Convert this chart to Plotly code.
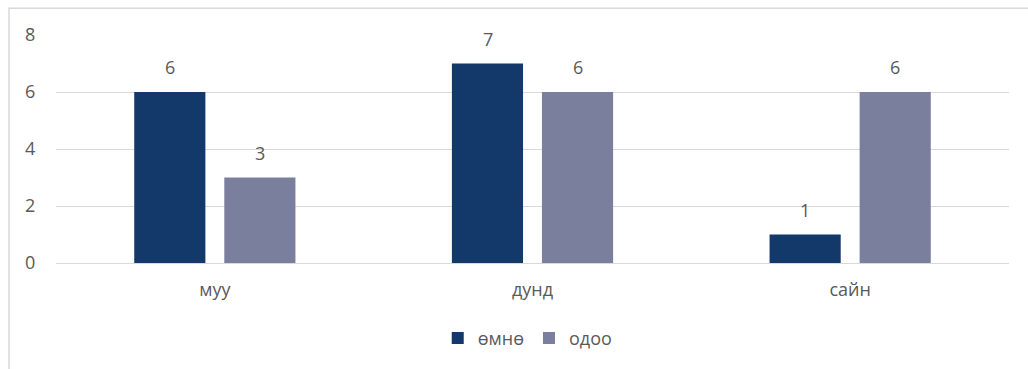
import plotly.graph_objects as go

categories = ["муу", "дунд", "сайн"]
series_names = ["өмнө", "одоо"]
before_values = [6, 7, 1]
now_values = [3, 6, 6]
tick_values = [0, 2, 4, 6, 8]

colors = ["#13386a", "#7b7f9e"]
text_color = "#595959"
grid_color = "#d9d9d9"
font_family = "Open Sans, Liberation Sans, sans-serif"

fig = go.Figure()
for name, vals, col in zip(series_names, [before_values, now_values], colors):
    fig.add_trace(go.Bar(
        x=categories, y=vals, name=name,
        marker=dict(color=col, line=dict(width=0)),
    ))

# value labels above each bar (bars are offset ±45px from category centre)
offsets = [-45, 45]
for vals, dx in zip([before_values, now_values], offsets):
    for c, v in zip(categories, vals):
        fig.add_annotation(
            x=c, y=v, text=str(v), showarrow=False,
            xshift=dx, yshift=11, yanchor="bottom",
            font=dict(family=font_family, size=18, color=text_color),
        )

# outer chart border
fig.add_shape(
    type="rect", xref="paper", yref="paper",
    x0=-0.0493, x1=1.2, y0=-0.8, y1=1.117,
    line=dict(color=grid_color, width=1.5), fillcolor="rgba(0,0,0,0)",
    layer="below",
)

fig.update_layout(
    width=1028, height=369,
    margin=dict(l=56, r=19, t=35, b=104),
    paper_bgcolor="white", plot_bgcolor="white",
    barmode="group", bargap=0.433, bargroupgap=0.21,
    font=dict(family=font_family, size=18, color=text_color),
    showlegend=True,
    legend=dict(
        orientation="h", x=0.495, xanchor="center", y=-0.33, yanchor="middle",
        font=dict(family=font_family, size=18, color=text_color),
        itemwidth=30, traceorder="normal",
    ),
    xaxis=dict(
        showgrid=False, showline=True, linecolor=grid_color, linewidth=1,
        ticks="outside", ticklen=10, tickcolor="rgba(0,0,0,0)",
        tickfont=dict(size=18, color=text_color),
    ),
    yaxis=dict(
        range=[0, 8], tickvals=tick_values, showgrid=True,
        gridcolor=grid_color, gridwidth=1, zeroline=False, showline=False,
        ticks="outside", ticklen=16, tickcolor="rgba(0,0,0,0)",
        tickfont=dict(size=18, color=text_color),
    ),
)

fig.write_html("out.html")
